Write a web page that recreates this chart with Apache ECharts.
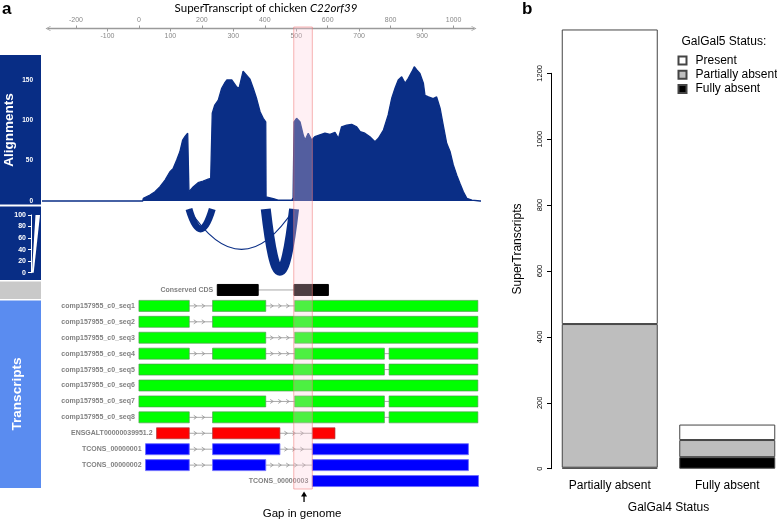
<!DOCTYPE html>
<html><head><meta charset="utf-8">
<script src="https://cdn.jsdelivr.net/npm/echarts@6/dist/echarts.min.js"></script>
<style>html,body{margin:0;padding:0;background:#fff}#c{width:777px;height:520px}</style>
</head><body><div id="c"></div>
<script>
// ---------------- Panel a data ----------------
const genomeEvenTicks = [-200, 0, 200, 400, 600, 800, 1000];
const genomeOddTicks = [-100, 100, 300, 500, 700, 900];
const coverageTicks = [0, 50, 100, 150];
const coveragePos = [-308, 12, 14, 35, 51, 67, 83, 98, 109, 120, 130, 139, 146, 155, 158, 159, 173, 188, 204, 220, 228, 232, 233, 241, 252, 263, 272, 279, 295, 310, 318, 331, 342, 353, 363, 374, 385, 395, 403, 404, 427, 442, 486, 490, 493, 501, 512, 522, 528, 538, 549, 559, 575, 591, 607, 623, 634, 644, 660, 676, 692, 703, 718, 734, 750, 761, 777, 792, 803, 814, 824, 835, 846, 856, 867, 875, 883, 893, 904, 909, 920, 935, 946, 957, 967, 978, 989, 999, 1010, 1020, 1031, 1042, 1058, 1084, 1087];
const coverageVal = [0, 0, 3.3, 7.4, 11.5, 17.7, 26, 36, 40.5, 50.8, 61, 75.6, 79.7, 84, 84, 11.5, 17.7, 22.7, 24.8, 27, 28, 28, 108.7, 119, 125, 139.7, 146, 150, 150, 141.7, 139.7, 161, 156, 151, 140, 127, 110.7, 102.5, 98, 5, 3, 1.2, 1.2, 4, 98, 102.5, 98, 82, 75.6, 84, 75.6, 79.7, 82, 84, 82.7, 85, 77.7, 92, 94, 95, 92, 86, 84, 79.7, 73.5, 77.7, 88, 106.6, 127, 140, 150, 154, 146, 152, 160, 166.5, 162.4, 158, 146, 131, 129, 127, 129, 115, 94, 71.5, 61, 44.6, 32, 22, 11.5, 3.3, 1.2, 0, 0];
const junctionTicks = [0, 20, 40, 60, 80, 100];
const junctionStart = [159, 403, 159];
const junctionEnd = [233, 493, 493];
const junctionReads = [70, 100, 12];
const junctionDepth = [28, 87, 57];
const gapRegion = [492, 551];
const trackNames = ['Conserved CDS', 'comp157955_c0_seq1', 'comp157955_c0_seq2', 'comp157955_c0_seq3', 'comp157955_c0_seq4', 'comp157955_c0_seq5', 'comp157955_c0_seq6', 'comp157955_c0_seq7', 'comp157955_c0_seq8', 'ENSGALT00000039951.2', 'TCONS_00000001', 'TCONS_00000002', 'TCONS_00000003'];
const trackKind = ['cds', 'trinity', 'trinity', 'trinity', 'trinity', 'trinity', 'trinity', 'trinity', 'trinity', 'ensembl', 'cufflinks', 'cufflinks', 'cufflinks'];
const trackExons = [
  [[249, 379], [493, 602]],
  [[0, 160], [234, 403], [495, 1077]],
  [[0, 160], [234, 1077]],
  [[0, 403], [495, 1077]],
  [[0, 160], [234, 403], [495, 780], [795, 1077]],
  [[0, 780], [795, 1077]],
  [[0, 1077]],
  [[0, 403], [495, 780], [795, 1077]],
  [[0, 160], [234, 780], [795, 1077]],
  [[56, 160], [234, 448], [551, 623]],
  [[21, 160], [234, 448], [551, 1047]],
  [[21, 160], [234, 403], [551, 1047]],
  [[551, 1079]]
];
// ---------------- Panel b data ----------------
const bCategories = ['Partially absent', 'Fully absent'];
const bFullyAbsent = [3, 35];
const bPartiallyAbsent = [436, 52];
const bPresent = [894, 47];

const NAVY = '#0a2e86';
const SANS = '"Liberation Sans", Arial, Helvetica, sans-serif';
const plain = function (v) { return String(v); };
const kindStyle = {
  cds: {fill: '#000000', stroke: '#000000'},
  trinity: {fill: '#00ff00', stroke: 'rgba(80,150,80,0.65)'},
  ensembl: {fill: '#ff0000', stroke: 'rgba(170,60,60,0.7)'},
  cufflinks: {fill: '#0000ff', stroke: 'rgba(110,110,255,0.9)'}
};

const chart = echarts.init(document.getElementById('c'), null, {renderer: 'canvas'});
const xMin = -308, xMax = 1087;

const option = {
  animation: false,
  backgroundColor: '#ffffff',
  grid: [
    {left: 48, right: 303, top: 27.5, height: 1, outerBoundsMode: 'none'},
    {left: 42, right: 296, top: 66, height: 135, outerBoundsMode: 'none'},
    {left: 42, right: 296, top: 209, height: 71, outerBoundsMode: 'none'},
    {left: 31, width: 9, top: 215, height: 57.7, outerBoundsMode: 'none'},
    {left: 42, right: 296, top: 282, height: 207, outerBoundsMode: 'none'},
    {left: 42, right: 296, top: 27, height: 462, outerBoundsMode: 'none'},
    {left: 551, right: -9, top: 73.3, height: 395.4, outerBoundsMode: 'none'}
  ],
  xAxis: [
    {gridIndex: 0, type: 'value', min: -289, max: 1065, position: 'top',
      axisLine: {show: true, lineStyle: {color: '#9a9a9a', width: 1.3},
        symbol: ['path://M0,10 L5,0 L10,10 L8.6,10 L5,2.6 L1.4,10 Z', 'path://M0,10 L5,0 L10,10 L8.6,10 L5,2.6 L1.4,10 Z'],
        symbolSize: [6, 5]},
      axisTick: {show: true, customValues: genomeEvenTicks, length: 3, lineStyle: {color: '#9a9a9a'}},
      axisLabel: {show: true, customValues: genomeEvenTicks, formatter: plain, margin: 4, fontSize: 7, color: '#888', fontFamily: SANS},
      splitLine: {show: false}},
    {gridIndex: 0, type: 'value', min: -289, max: 1065, position: 'bottom',
      axisLine: {show: false},
      axisTick: {show: true, customValues: genomeOddTicks, length: 3, lineStyle: {color: '#9a9a9a'}},
      axisLabel: {show: true, customValues: genomeOddTicks, formatter: plain, margin: 4, fontSize: 7, color: '#888', fontFamily: SANS},
      splitLine: {show: false}},
    {gridIndex: 1, type: 'value', min: xMin, max: xMax, show: false},
    {gridIndex: 2, type: 'value', min: xMin, max: xMax, show: false},
    {gridIndex: 3, type: 'value', min: 0, max: 1, show: false},
    {gridIndex: 4, type: 'value', min: xMin, max: xMax, show: false},
    {gridIndex: 5, type: 'value', min: xMin, max: xMax, show: false},
    {gridIndex: 6, type: 'category', data: bCategories,
      axisLine: {show: false}, axisTick: {show: false},
      axisLabel: {fontSize: 12, color: '#000', margin: 11, fontFamily: SANS},
      name: 'GalGal4 Status', nameLocation: 'middle', nameGap: 33,
      nameTextStyle: {fontSize: 12, color: '#000', fontFamily: SANS}}
  ],
  yAxis: [
    {gridIndex: 0, type: 'value', show: false},
    {gridIndex: 1, type: 'value', min: 0, max: 167.35, offset: 3,
      axisLine: {show: true, lineStyle: {color: '#ffffff', width: 1}},
      axisTick: {show: true, customValues: coverageTicks, length: 4, lineStyle: {color: '#ffffff'}},
      axisLabel: {show: true, customValues: coverageTicks, formatter: plain, margin: 6, fontSize: 6.5, fontWeight: 'bold', color: '#ffffff', fontFamily: SANS},
      splitLine: {show: false}},
    {gridIndex: 2, type: 'value', min: 0, max: 100, inverse: true, show: false},
    {gridIndex: 3, type: 'value', min: 0, max: 100, interval: 20,
      axisLine: {show: true, lineStyle: {color: '#ffffff', width: 1}},
      axisTick: {show: true, length: 3, lineStyle: {color: '#ffffff'}},
      axisLabel: {show: true, formatter: plain, margin: 5, fontSize: 7, fontWeight: 'bold', color: '#ffffff', fontFamily: SANS},
      splitLine: {show: false}},
    {gridIndex: 4, type: 'category', data: trackNames, inverse: true, show: false},
    {gridIndex: 5, type: 'value', min: 0, max: 1, show: false},
    {gridIndex: 6, type: 'value', min: 0, max: 1200, interval: 200,
      axisLine: {show: true, lineStyle: {color: '#000', width: 1}},
      axisTick: {show: true, length: 4, lineStyle: {color: '#000'}},
      axisLabel: {show: true, rotate: 90, formatter: plain, margin: 7, fontSize: 7.5, color: '#000', fontFamily: SANS},
      splitLine: {show: false}}
  ],
  legend: {
    data: ['Present', 'Partially absent', 'Fully absent'],
    orient: 'vertical', left: 672.5, top: 48.5, icon: 'rect',
    itemWidth: 8, itemHeight: 8, itemGap: 0.3,
    textStyle: {fontSize: 12, color: '#000', fontFamily: SANS, lineHeight: 14, padding: [0, 0, 0, 4]},
    selectedMode: false
  },
  graphic: [
    {type: 'rect', z: -10, shape: {x: 0, y: 55, width: 41, height: 149.5}, style: {fill: '#082d85'}},
    {type: 'rect', z: -10, shape: {x: 0, y: 206.5, width: 41, height: 73.5}, style: {fill: '#082d85'}},
    {type: 'rect', z: -10, shape: {x: 0, y: 281.5, width: 41, height: 17.5}, style: {fill: '#c9c9c9'}},
    {type: 'rect', z: -10, shape: {x: 0, y: 300.5, width: 41, height: 187.5}, style: {fill: '#5a8cf0'}},
    {type: 'text', z: 100, x: 9.5, y: 130, rotation: Math.PI / 2,
      style: {text: 'Alignments', font: 'bold 13.5px ' + SANS, fill: '#fff', align: 'center', verticalAlign: 'middle'}},
    {type: 'text', z: 100, x: 17, y: 394, rotation: Math.PI / 2,
      style: {text: 'Transcripts', font: 'bold 13.5px ' + SANS, fill: '#fff', align: 'center', verticalAlign: 'middle'}},
    {type: 'text', z: 100, x: 2, y: 1,
      style: {text: 'a', font: 'bold 17px ' + SANS, fill: '#000'}},
    {type: 'text', z: 100, x: 522, y: 1,
      style: {text: 'b', font: 'bold 17px ' + SANS, fill: '#000'}},
    {type: 'text', z: 100, x: 266, y: 8,
      style: {text: '{n|SuperTranscript of chicken }{i|C22orf39}', align: 'center', verticalAlign: 'middle',
        rich: {n: {fontSize: 11.5, fontFamily: 'Lato, "Open Sans", sans-serif', fill: '#000', color: '#000'},
               i: {fontSize: 11.5, fontFamily: 'Lato, "Open Sans", sans-serif', fontStyle: 'italic', fill: '#000', color: '#000'}}}},
    {type: 'text', z: 100, x: 518, y: 249, rotation: Math.PI / 2,
      style: {text: 'SuperTranscripts', font: '12px ' + SANS, fill: '#000', align: 'center', verticalAlign: 'middle'}},
    {type: 'text', z: 100, x: 681.5, y: 42,
      style: {text: 'GalGal5 Status:', font: '12px ' + SANS, fill: '#000', align: 'left', verticalAlign: 'middle'}}
  ],
  series: [
    {type: 'line', xAxisIndex: 2, yAxisIndex: 1, showSymbol: false, clip: false,
      data: coveragePos.map((p, i) => [p, coverageVal[i]]),
      lineStyle: {color: NAVY, width: 1.3}, areaStyle: {color: NAVY, opacity: 1}, z: 2},
    {type: 'custom', xAxisIndex: 3, yAxisIndex: 2, clip: false,
      data: junctionStart.map((s, i) => [s, junctionEnd[i], junctionDepth[i], junctionReads[i]]),
      encode: {x: [0, 1], y: 2},
      renderItem: function (params, api) {
        const s = api.value(0), e = api.value(1), d = api.value(2), r = api.value(3);
        const p0 = api.coord([s, 0]), p1 = api.coord([e, 0]);
        const pm = api.coord([(s + e) / 2, d]);
        const cpy = p0[1] + 2 * (pm[1] - p0[1]);
        return {type: 'bezierCurve', shape: {x1: p0[0], y1: p0[1], x2: p1[0], y2: p1[1], cpx1: pm[0], cpy1: cpy},
          style: {stroke: NAVY, lineWidth: r / 10, fill: null}};
      }},
    {type: 'custom', xAxisIndex: 4, yAxisIndex: 3, clip: false,
      data: [[junctionTicks[0], junctionTicks[junctionTicks.length - 1]]],
      encode: {y: [0, 1]},
      renderItem: function (params, api) {
        const lo = api.value(0), hi = api.value(1);
        const bl = api.coord([0.1, lo]), br = api.coord([0.3, lo]), tr = api.coord([1, hi]), tl = api.coord([0.5, hi]);
        return {type: 'polygon', shape: {points: [bl, br, tr, tl]}, style: {fill: '#ffffff'}};
      }},
    {type: 'custom', xAxisIndex: 5, yAxisIndex: 4, clip: false,
      data: trackNames.map((n, i) => [trackExons[i][0][0], trackExons[i][trackExons[i].length - 1][1], i]),
      encode: {x: [0, 1], y: 2},
      renderItem: function (params, api) {
        const idx = params.dataIndex;
        const exons = trackExons[idx];
        const st = kindStyle[trackKind[idx]];
        const yc = api.coord([0, idx])[1];
        const h = 11;
        const children = [];
        for (let i = 0; i < exons.length - 1; i++) {
          const x1 = api.coord([exons[i][1], idx])[0];
          const x2 = api.coord([exons[i + 1][0], idx])[0];
          children.push({type: 'line', shape: {x1: x1, y1: yc, x2: x2, y2: yc}, style: {stroke: '#a8a8a8', lineWidth: 1}});
          if (trackKind[idx] !== 'cds') {
            for (let x = x1 + 6; x <= x2 - 6; x += 8) {
              children.push({type: 'polyline', shape: {points: [[x - 1.5, yc - 2], [x + 1.5, yc], [x - 1.5, yc + 2]]},
                style: {stroke: '#9a9a9a', lineWidth: 0.9, fill: null}});
            }
          }
        }
        exons.forEach(function (e) {
          const a = api.coord([e[0], idx]), b = api.coord([e[1], idx]);
          children.push({type: 'rect', shape: {x: a[0], y: yc - h / 2, width: b[0] - a[0], height: h},
            style: {fill: st.fill, stroke: st.stroke, lineWidth: 1}});
        });
        const first = api.coord([exons[0][0], idx]);
        children.push({type: 'text', style: {text: trackNames[idx], x: first[0] - 4, y: yc, align: 'right', verticalAlign: 'middle',
          font: 'bold 7px ' + SANS, fill: '#808080'}});
        return {type: 'group', children: children};
      }},
    {type: 'custom', xAxisIndex: 6, yAxisIndex: 5, clip: false, z: 20,
      data: [gapRegion],
      encode: {x: [0, 1]},
      renderItem: function (params, api) {
        const a = api.coord([api.value(0), 0]), b = api.coord([api.value(1), 0]);
        const cs = params.coordSys;
        const top = cs.y, bottom = cs.y + cs.height;
        const xm = (a[0] + b[0]) / 2 + 1;
        return {type: 'group', children: [
          {type: 'rect', shape: {x: a[0], y: top, width: b[0] - a[0], height: cs.height},
            style: {fill: 'rgba(255,206,217,0.3)', stroke: 'rgba(240,120,120,0.55)', lineWidth: 1}},
          {type: 'line', shape: {x1: xm, y1: bottom + 13, x2: xm, y2: bottom + 6}, style: {stroke: '#000', lineWidth: 1.3}},
          {type: 'polygon', shape: {points: [[xm, bottom + 2.5], [xm - 3, bottom + 7.5], [xm + 3, bottom + 7.5]]}, style: {fill: '#000'}},
          {type: 'text', style: {text: 'Gap in genome', x: xm - 2, y: bottom + 25, align: 'center', verticalAlign: 'middle',
            font: '11.5px ' + SANS, fill: '#000'}}
        ]};
      }},
    {name: 'Fully absent', type: 'bar', xAxisIndex: 7, yAxisIndex: 6, stack: 'b', barWidth: 96, clip: false,
      data: bFullyAbsent, itemStyle: {color: '#000000', borderColor: '#444', borderWidth: 1}},
    {name: 'Partially absent', type: 'bar', xAxisIndex: 7, yAxisIndex: 6, stack: 'b', barWidth: 96, clip: false,
      data: bPartiallyAbsent, itemStyle: {color: '#bebebe', borderColor: '#444', borderWidth: 1}},
    {name: 'Present', type: 'bar', xAxisIndex: 7, yAxisIndex: 6, stack: 'b', barWidth: 96, clip: false,
      data: bPresent, itemStyle: {color: '#ffffff', borderColor: '#444', borderWidth: 1}}
  ]
};
chart.setOption(option);
</script>
</body></html>
